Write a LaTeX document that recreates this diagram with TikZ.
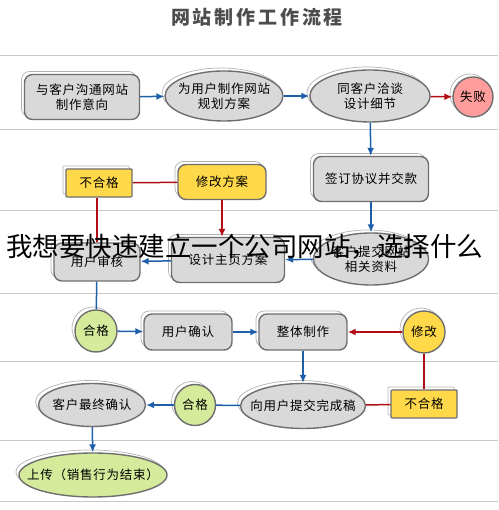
\documentclass[tikz,border=0pt]{standalone}
\usepackage{fontspec}
\usepackage{tikz}
\usetikzlibrary{positioning,shapes.geometric,shadows,arrows.meta}
\setmainfont{Noto Sans CJK SC}
\newfontfamily\cjk{Noto Sans CJK SC}

\definecolor{boxfill}{HTML}{D9D9D9}
\definecolor{boxline}{HTML}{6E6E6E}
\definecolor{paleyellow}{HTML}{FFD94A}
\definecolor{palegreen}{HTML}{D5EB9B}
\definecolor{palepink}{HTML}{FF9C9C}
\definecolor{flowblue}{HTML}{1F5FAA}
\definecolor{flowred}{HTML}{B00D15}
\definecolor{rulegray}{HTML}{C8C8C8}
\definecolor{titlegray}{HTML}{4D4D4D}

\begin{document}
\begin{tikzpicture}[x=1pt,y=1pt,
    base/.style={draw=boxline, line width=1.4pt, fill=boxfill, align=center,
        font=\cjk\addfontfeature{LetterSpace=6}\fontsize{12.5}{15.5}\selectfont, inner sep=1pt,
        copy shadow={shadow xshift=-3pt, shadow yshift=3pt, fill=white, draw=gray!60, line width=0.7pt}},
    box/.style={base, rectangle, rounded corners=8pt},
    oval/.style={base, ellipse, inner xsep=-14pt},
    dot/.style={base, circle},
    yellowbox/.style={base, rectangle, rounded corners=1pt, fill=paleyellow},
    blueline/.style={flowblue, line width=1.5pt},
    redline/.style={flowred, line width=1.5pt},
    bluearrow/.style={blueline, -{Latex[length=8pt,width=7pt]}},
    redarrow/.style={redline, -{Latex[length=8pt,width=7pt]}}]

        \useasboundingbox (0,0) rectangle (498,510);

        % lane rules
        \foreach \y in {455,381,300,217,149,70,9}
            \draw[rulegray, line width=0.8pt] (0,\y) -- (498,\y);

        \node (title) at (257,493) {\cjk\bfseries\addfontfeature{LetterSpace=15}\fontsize{19}{21}\selectfont\color{titlegray}网站制作工作流程};

        % row 1
        \node[box, minimum width=115pt, minimum height=45pt] (start) at (82,413) {与客户沟通网站\\制作意向};
        \node[oval, minimum width=118pt, minimum height=50pt] (plan) at (224,414) {为用户制作网站\\规划方案};
        \node[oval, minimum width=120pt, minimum height=52pt] (talk) at (370,414) {同客户洽谈\\设计细节};
        \node[dot, fill=palepink, minimum size=40pt] (fail) at (473,413) {失败};

        % row 2
        \node[box, minimum width=115pt, minimum height=45pt] (sign) at (371,331) {签订协议并交款};
        \node[yellowbox, minimum width=66pt, minimum height=28pt] (nopass1) at (99,327) {不合格};
        \node[box, fill=paleyellow, minimum width=88pt, minimum height=35pt] (revise1) at (222,328) {修改方案};

        % row 3
        \node[oval, minimum width=115pt, minimum height=52pt] (submit) at (371,251) {客户提交网站\\相关资料};
        \node[box, minimum width=113pt, minimum height=45pt] (design) at (228,250) {设计主页方案};
        \node[box, minimum width=86pt, minimum height=38pt] (check) at (97,248) {用户审核};

        % row 4
        \node[dot, fill=palegreen, minimum size=42pt] (pass1) at (96,179) {合格};
        \node[box, minimum width=88pt, minimum height=36pt] (confirm) at (188,178) {用户确认};
        \node[box, minimum width=88pt, minimum height=36pt] (build) at (303,178) {整体制作};
        \node[dot, fill=paleyellow, minimum size=42pt] (revise2) at (424,178) {修改};

        % row 5
        \node[oval, minimum width=125pt, minimum height=45pt] (draft) at (303,104) {向用户提交完成稿};
        \node[yellowbox, minimum width=66pt, minimum height=28pt] (nopass2) at (424,106) {不合格};
        \node[dot, fill=palegreen, minimum size=41pt] (pass2) at (195,105) {合格};
        \node[oval, minimum width=107pt, minimum height=43pt] (final) at (92,105) {客户最终确认};

        % row 6
        \node[oval, fill=palegreen, minimum width=148pt, minimum height=44pt] (upload) at (93,35) {上传（销售行为结束）};

        % connectors
        \draw[bluearrow] (start) -- (plan);
        \draw[bluearrow] (plan) -- (talk);
        \draw[redarrow] (talk) -- (fail);
        \draw[bluearrow] (talk) -- (sign);
        \draw[bluearrow] (sign) -- (submit);
        \draw[bluearrow] (submit) -- (design);
        \draw[bluearrow] (design) -- (check);
        \draw[redarrow] (revise1) -- (revise1 |- design.north);
        \draw[redline] (nopass1) -- (revise1);
        \draw[redline] (nopass1.south -| check) -- (check);
        \draw[blueline] (check) -- (pass1);

        \draw[bluearrow] (pass1) -- (confirm);
        \draw[bluearrow] (confirm) -- (build);
        \draw[redarrow] (revise2) -- (build);
        \draw[bluearrow] (build) -- (draft);
        \draw[redline] (draft) -- (nopass2);
        \draw[redline] (nopass2) -- (revise2);
        \draw[blueline] (draft) -- (pass2);
        \draw[bluearrow] (pass2) -- (final);
        \draw[bluearrow] (final) -- (upload);

        % overlay text
        \node[anchor=west, inner sep=0pt] (banner) at (6,263) {\cjk\fontsize{26.5}{28}\selectfont 我想要快速建立一个公司网站，选择什么};

    \end{tikzpicture}
\end{document}
